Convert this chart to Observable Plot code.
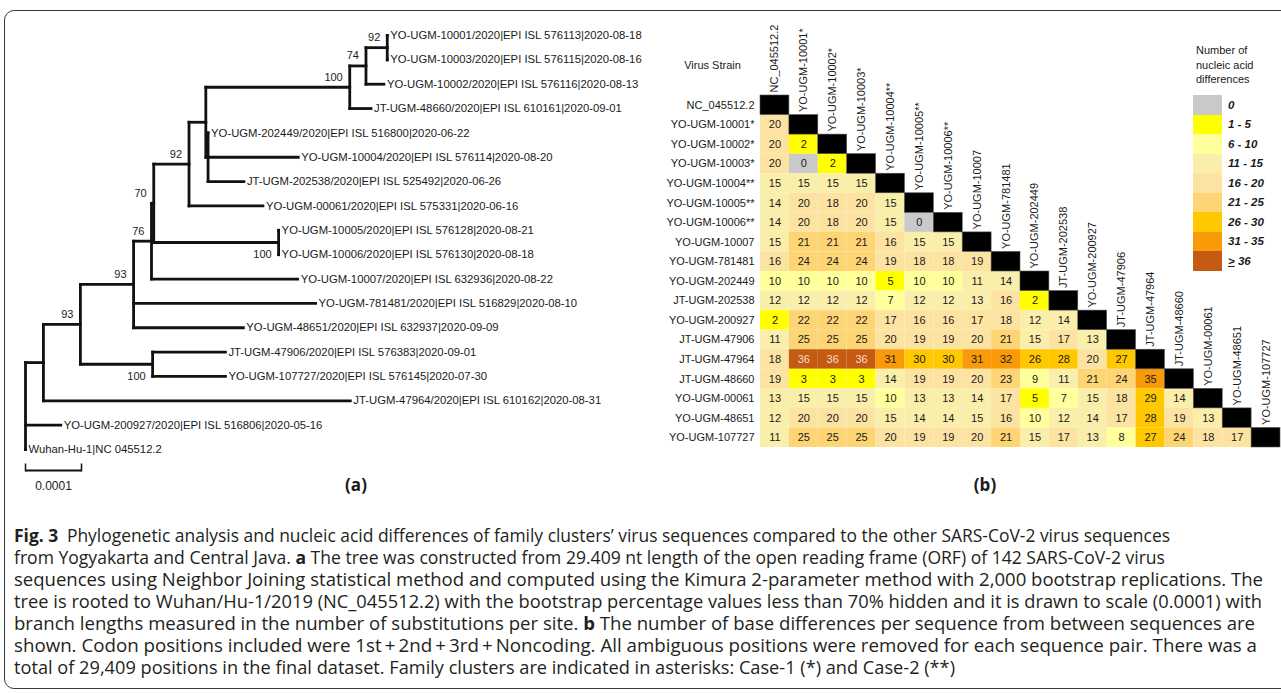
<!DOCTYPE html>
<html><head><meta charset="utf-8">
<script src="https://cdn.jsdelivr.net/npm/d3@7"></script>
<script src="https://cdn.jsdelivr.net/npm/@observablehq/plot@0.6"></script>
<style>
body{margin:0;background:#fff;}
#fig{position:relative;width:1281px;height:693px;overflow:hidden;font-family:"Liberation Sans",Arial,sans-serif;color:#1a1a1a;}
#frame{position:absolute;left:4px;top:10px;width:1320px;height:679px;border:1.3px solid #3a3a3a;border-radius:10px;box-sizing:border-box;}
.abs{position:absolute;}
.panel{font-family:"Open Sans","Noto Sans",sans-serif;font-weight:700;font-size:17px;transform:translateX(-50%);}
#legend .title{position:absolute;left:1196px;top:43px;font-size:11px;line-height:14.5px;}
#legend .sw{position:absolute;left:1193px;width:29px;}
#legend .lab{position:absolute;left:1228px;font-size:11.5px;font-weight:bold;font-style:italic;line-height:14px;}
#caption{position:absolute;left:14px;top:524px;font-family:"Open Sans","Noto Sans",sans-serif;font-size:17.5px;line-height:22px;color:#231f20;}
#caption div{white-space:nowrap;transform-origin:0 50%;width:max-content;}
</style></head><body>
<div id="fig">
  <div id="frame"></div>
  <div id="tree" class="abs" style="left:0;top:0"></div>
  <div id="heat" class="abs" style="left:660px;top:0"></div>
  <div id="legend"></div>
  <div class="abs panel" style="left:356px;top:473px">(a)</div>
  <div class="abs panel" style="left:985px;top:473px">(b)</div>
  <div id="caption"></div>
</div>
<script>
// ---------------- DATA ----------------
// Tree leaves, top to bottom
const leafIds = ["10001","10003","10002","48660","202449","10004","202538","00061","10005","10006","10007","781481","48651","47906","107727","47964","200927","Wuhan"];
const leafLabels = [
  "YO-UGM-10001/2020|EPI ISL 576113|2020-08-18",
  "YO-UGM-10003/2020|EPI ISL 576115|2020-08-16",
  "YO-UGM-10002/2020|EPI ISL 576116|2020-08-13",
  "JT-UGM-48660/2020|EPI ISL 610161|2020-09-01",
  "YO-UGM-202449/2020|EPI ISL 516800|2020-06-22",
  "YO-UGM-10004/2020|EPI ISL 576114|2020-08-20",
  "JT-UGM-202538/2020|EPI ISL 525492|2020-06-26",
  "YO-UGM-00061/2020|EPI ISL 575331|2020-06-16",
  "YO-UGM-10005/2020|EPI ISL 576128|2020-08-21",
  "YO-UGM-10006/2020|EPI ISL 576130|2020-08-18",
  "YO-UGM-10007/2020|EPI ISL 632936|2020-08-22",
  "YO-UGM-781481/2020|EPI ISL 516829|2020-08-10",
  "YO-UGM-48651/2020|EPI ISL 632937|2020-09-09",
  "JT-UGM-47906/2020|EPI ISL 576383|2020-09-01",
  "YO-UGM-107727/2020|EPI ISL 576145|2020-07-30",
  "JT-UGM-47964/2020|EPI ISL 610162|2020-08-31",
  "YO-UGM-200927/2020|EPI ISL 516806|2020-05-16",
  "Wuhan-Hu-1|NC 045512.2"
];
// edges: parent, child, branch length (x 1e-6 substitutions per site)
const treeEdges = [
  ["R","N1",32],["R","200927",63],["R","Wuhan",0],
  ["N1","N2",66],["N1","47964",548],
  ["N2","N4",95],["N2","N3",129],
  ["N3","47906",130],["N3","107727",130],
  ["N4","N5",32],["N4","781481",325],["N4","48651",196],
  ["N5","N6",4],["N5","10007",261],
  ["N6","N8",63],["N6","N7",223],
  ["N7","10005",0],["N7","10006",0],
  ["N8","X",30],["N8","00061",132],
  ["X","N9",257],["X","Y",4],
  ["Y","202449",0],["Y","10004",161],["Y","202538",64],
  ["N9","N10",29],["N9","48660",38],
  ["N10","N11",38],["N10","10002",32],
  ["N11","10001",0],["N11","10003",0]
];
const bootNodes  = ["N11","N10","N9","N8","N6","N5","N4","N7","N3","N2"];
const bootValues = [92,74,100,92,70,76,93,100,100,93];
const bootBelow = ["N7","N3"];
const scaleBarValue = 0.0001;

// Heatmap
const strains = ["NC_045512.2","YO-UGM-10001*","YO-UGM-10002*","YO-UGM-10003*","YO-UGM-10004**","YO-UGM-10005**","YO-UGM-10006**","YO-UGM-10007","YO-UGM-781481","YO-UGM-202449","JT-UGM-202538","YO-UGM-200927","JT-UGM-47906","JT-UGM-47964","JT-UGM-48660","YO-UGM-00061","YO-UGM-48651","YO-UGM-107727"];
const diffRows = [
  [],
  [20],
  [20,2],
  [20,0,2],
  [15,15,15,15],
  [14,20,18,20,15],
  [14,20,18,20,15,0],
  [15,21,21,21,16,15,15],
  [16,24,24,24,19,18,18,19],
  [10,10,10,10,5,10,10,11,14],
  [12,12,12,12,7,12,12,13,16,2],
  [2,22,22,22,17,16,16,17,18,12,14],
  [11,25,25,25,20,19,19,20,21,15,17,13],
  [18,36,36,36,31,30,30,31,32,26,28,20,27],
  [19,3,3,3,14,19,19,20,23,9,11,21,24,35],
  [13,15,15,15,10,13,13,14,17,5,7,15,18,29,14],
  [12,20,20,20,15,14,14,15,16,10,12,14,17,28,19,13],
  [11,25,25,25,20,19,19,20,21,15,17,13,8,27,24,18,17]
];
const legendLabels = ["0","1 - 5","6 - 10","11 - 15","16 - 20","21 - 25","26 - 30","31 - 35","\u2265 36"];
const legendThresholds = [1,6,11,16,21,26,31,36];
const legendColors = ["#c9c9c9","#ffff00","#ffff9c","#faeeab","#fde3a2","#fdd574","#ffc800","#f99a08","#c55a12"];
const legendTitle = ["Number of","nucleic acid","differences"];

const captionLines = [
  "<b>Fig. 3</b>&ensp;Phylogenetic analysis and nucleic acid differences of family clusters\u2019 virus sequences compared to the other SARS-CoV-2 virus sequences",
  "from Yogyakarta and Central Java. <b>a</b> The tree was constructed from 29.409 nt length of the open reading frame (ORF) of 142 SARS-CoV-2 virus",
  "sequences using Neighbor Joining statistical method and computed using the Kimura 2-parameter method with 2,000 bootstrap replications. The",
  "tree is rooted to Wuhan/Hu-1/2019 (NC_045512.2) with the bootstrap percentage values less than 70% hidden and it is drawn to scale (0.0001) with",
  "branch lengths measured in the number of substitutions per site. <b>b</b> The number of base differences per sequence from between sequences are",
  "shown. Codon positions included were 1st\u2009+\u20092nd\u2009+\u20093rd\u2009+\u2009Noncoding. All ambiguous positions were removed for each sequence pair. There was a",
  "total of 29,409 positions in the final dataset. Family clusters are indicated in asterisks: Case-1 (*) and Case-2 (**)"
];
// measured line widths of the caption in the reference (layout)
const captionWidths = [1156, 1151, 1249, 1248, 1241, 1243, 941];

// ---------------- TREE ----------------
const FONT = "'Liberation Sans', Arial, sans-serif";
const kids = new Map(), blen = new Map();
for (const [p,c,l] of treeEdges) { if (!kids.has(p)) kids.set(p, []); kids.get(p).push(c); blen.set(c, l*1e-6); }
const NX = new Map(), NY = new Map();
(function place(n, x) {
  NX.set(n, x);
  const ch = kids.get(n);
  if (!ch) { NY.set(n, leafIds.indexOf(n)); return; }
  for (const c of ch) place(c, x + blen.get(c));
  NY.set(n, (NY.get(ch[0]) + NY.get(ch[ch.length-1]))/2);
})("R", 0);

const hSeg = treeEdges.map(([p,c]) => ({x1: NX.get(p), x2: NX.get(c), y: NY.get(c)}));
const vSeg = [...kids.entries()].map(([n,ch]) => ({x: NX.get(n), y1: NY.get(ch[0]), y2: NY.get(ch[ch.length-1])}));
const leaves = leafIds.map((id,i) => ({x: NX.get(id), y: NY.get(id), label: leafLabels[i]}));
const boots = bootNodes.map((n,i) => ({x: NX.get(n), y: NY.get(n), v: bootValues[i], below: bootBelow.includes(n)}));
const lastY = leafIds.length - 1;

const tree = Plot.plot({
  width: 660, height: 500,
  x: {domain: [0, scaleBarValue], range: [25, 81], axis: null},
  y: {domain: [0, lastY], range: [35, 449], axis: null},
  style: {fontFamily: FONT, fontSize: "11.3px", color: "#1a1a1a", background: "transparent"},
  marks: [
    Plot.link(hSeg, {x1: "x1", x2: "x2", y1: "y", y2: "y", stroke: "#111", strokeWidth: 2.8, strokeLinecap: "square"}),
    Plot.link(vSeg, {x1: "x", x2: "x", y1: "y1", y2: "y2", stroke: "#111", strokeWidth: 2.8, strokeLinecap: "square"}),
    Plot.text(leaves, {x: "x", y: "y", text: "label", textAnchor: "start", dx: 3, fill: "#1a1a1a"}),
    Plot.text(boots.filter(d => !d.below), {x: "x", y: "y", text: d => String(d.v), textAnchor: "end", dx: -7, dy: -10, fill: "#222", fontSize: 11}),
    Plot.text(boots.filter(d => d.below), {x: "x", y: "y", text: d => String(d.v), textAnchor: "end", dx: -7, dy: 12, fill: "#222", fontSize: 11}),
    // scale bar
    Plot.link([0], {x1: () => 0, x2: () => scaleBarValue, y1: () => lastY, y2: () => lastY, dy: 21, stroke: "#111", strokeWidth: 2}),
    Plot.link([0, scaleBarValue], {x1: d => d, x2: d => d, y1: () => lastY, y2: () => lastY + 0.33, dy: 14, stroke: "#111", strokeWidth: 1.5}),
    Plot.text([scaleBarValue/2], {x: d => d, y: () => lastY, text: () => String(scaleBarValue), dy: 37, fontSize: 12, fill: "#1a1a1a"})
  ]
});
document.getElementById("tree").append(tree);

// ---------------- HEATMAP ----------------
const H = 460, MT = 95, MB = 13;
const rowH = (H - MT - MB) / strains.length;
const cells = [];
diffRows.forEach((row, i) => row.forEach((v, j) => cells.push({row: strains[i], col: strains[j], v})));
const heat = Plot.plot({
  width: 621, height: H, marginLeft: 100, marginRight: 1, marginTop: MT, marginBottom: MB,
  x: {type: "band", domain: strains, padding: 0, round: false, axis: null},
  y: {type: "band", domain: strains, padding: 0, round: false, axis: "left", tickSize: 0, tickPadding: 6, label: null},
  color: {type: "threshold", domain: legendThresholds, range: legendColors},
  style: {fontFamily: FONT, fontSize: "11px", color: "#1a1a1a", background: "transparent"},
  marks: [
    Plot.cell(cells, {x: "col", y: "row", fill: "v"}),
    Plot.cell(strains, {x: d => d, y: d => d, fill: "#000", stroke: "#555", strokeWidth: 0.6}),
    Plot.text(cells.filter(d => d.v < 36), {x: "col", y: "row", text: d => String(d.v), fill: "#1a1a1a", fontSize: 11}),
    Plot.text(cells.filter(d => d.v >= 36), {x: "col", y: "row", text: d => String(d.v), fill: "#f5dfcf", fontSize: 11}),
    Plot.text(strains, {x: d => d, y: d => d, text: d => d, rotate: -90, textAnchor: "start", dy: -(rowH/2 + 3), fill: "#1a1a1a", fontSize: 11}),
    Plot.text(["Virus Strain"], {frameAnchor: "top-left", text: d => d, textAnchor: "middle", lineAnchor: "middle", dx: -48, dy: -30, fontSize: 11, fill: "#1a1a1a"})
  ]
});
document.getElementById("heat").append(heat);

// ---------------- LEGEND ----------------
const legend = document.getElementById("legend");
const t = document.createElement("div"); t.className = "title"; t.innerHTML = legendTitle.join("<br>"); legend.append(t);
const swTop = 95, swH = 19.5;
legendLabels.forEach((lab, i) => {
  const s = document.createElement("div"); s.className = "sw";
  s.style.top = (swTop + i*swH) + "px"; s.style.height = (swH + 0.5) + "px"; s.style.background = legendColors[i];
  legend.append(s);
  const l = document.createElement("div"); l.className = "lab";
  l.style.top = (swTop + i*swH + (swH - 14)/2) + "px"; l.textContent = lab;
  if (i === legendLabels.length - 1) l.innerHTML = "<span style='text-decoration:underline'>&gt;</span> 36";
  legend.append(l);
});

// ---------------- CAPTION ----------------
const cap = document.getElementById("caption");
const lineEls = captionLines.map(h => { const d = document.createElement("div"); d.innerHTML = h; cap.append(d); return d; });
function fitCaption() {
  lineEls.forEach((d, i) => {
    d.style.transform = "none";
    const w = d.getBoundingClientRect().width;
    d.style.transform = `scaleX(${captionWidths[i] / w})`;
  });
}
fitCaption();
if (document.fonts && document.fonts.ready) document.fonts.ready.then(fitCaption);
</script>
</body></html>
